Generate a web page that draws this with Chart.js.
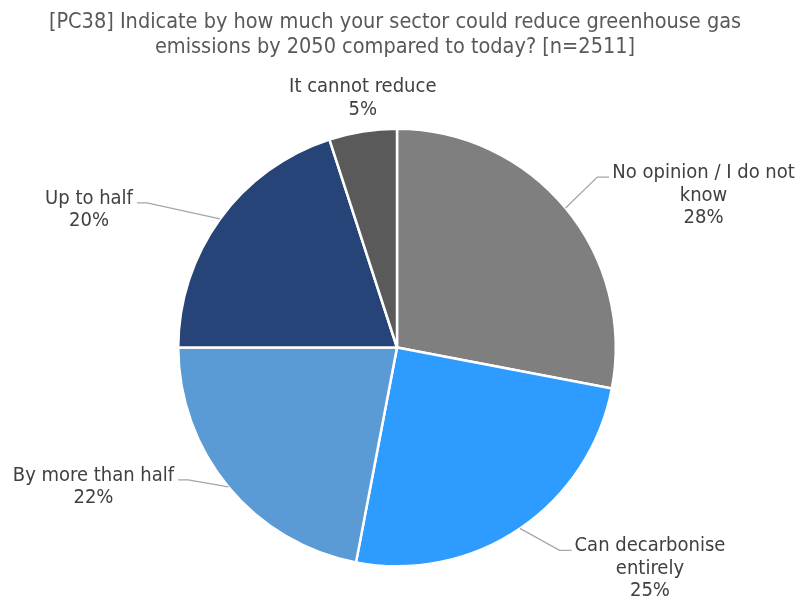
<!DOCTYPE html>
<html>
<head>
<meta charset="utf-8">
<title>PC38 pie</title>
<script src="https://cdn.jsdelivr.net/npm/chart.js@4.4.1/dist/chart.umd.min.js"></script>
<style>
  html, body { margin: 0; padding: 0; background: #ffffff; }
  canvas { display: block; }
</style>
</head>
<body>
<canvas id="chart" width="802" height="601"></canvas>
<script>
// Survey answers, in clockwise order from 12 o'clock
const categories = [
  'No opinion / I do not know',
  'Can decarbonise entirely',
  'By more than half',
  'Up to half',
  'It cannot reduce'
];
// Share of respondents, in percent
const shares = [28, 25, 22, 20, 5];
// How each category name is broken over lines in its label
const labelLines = [
  ['No opinion / I do not', 'know'],
  ['Can decarbonise', 'entirely'],
  ['By more than half'],
  ['Up to half'],
  ['It cannot reduce']
];
const titleLines = [
  '[PC38] Indicate by how much your sector could reduce greenhouse gas',
  'emissions by 2050 compared to today? [n=2511]'
];

// Slice colours
const sliceColors = ['#7f7f7f', '#2e9bff', '#5b9bd5', '#264478', '#5a5a5a'];

// Label placement: offset of the first text line (centre x, baseline y) from the slice's
// outer mid point, plus which side of the text a leader line attaches to.
const labelPlacement = [
  { dx: 138, dy: -30, leader: 'right' },
  { dx: 130, dy: 23, leader: 'right' },
  { dx: -135, dy: -6, leader: 'left' },
  { dx: -131, dy: -15, leader: 'left' },
  { dx: 0, dy: -39, leader: null }
];

const FONT = '"DejaVu Sans Condensed", "DejaVu Sans", sans-serif';
const TEXT_COLOR = '#404040';
const LINE_STEP = 22.5;

const backgroundPlugin = {
  id: 'whiteBackground',
  beforeDraw(chart) {
    const ctx = chart.ctx;
    ctx.save();
    ctx.fillStyle = '#ffffff';
    ctx.fillRect(0, 0, chart.width, chart.height);
    ctx.restore();
  }
};

const titlePlugin = {
  id: 'titleText',
  afterDraw(chart) {
    const ctx = chart.ctx;
    ctx.save();
    ctx.font = '21.5px ' + FONT;
    ctx.fillStyle = '#595959';
    ctx.textAlign = 'center';
    ctx.textBaseline = 'alphabetic';
    titleLines.forEach((line, i) => ctx.fillText(line, 395, 28 + i * 25));
    ctx.restore();
  }
};

const sliceLabelPlugin = {
  id: 'sliceLabels',
  afterDatasetsDraw(chart) {
    const ctx = chart.ctx;
    const meta = chart.getDatasetMeta(0);
    const values = chart.data.datasets[0].data;
    ctx.save();
    ctx.font = '20px ' + FONT;
    ctx.textAlign = 'center';
    ctx.textBaseline = 'alphabetic';
    meta.data.forEach((arc, i) => {
      const p = arc.getProps(['x', 'y', 'startAngle', 'endAngle', 'outerRadius'], true);
      const mid = (p.startAngle + p.endAngle) / 2;
      const ax = p.x + Math.cos(mid) * p.outerRadius;
      const ay = p.y + Math.sin(mid) * p.outerRadius;
      const place = labelPlacement[i];
      const cx = ax + place.dx;
      const by = ay + place.dy;
      const lines = labelLines[i].concat([values[i] + '%']);
      const firstWidth = ctx.measureText(lines[0]).width;

      if (place.leader) {
        const hy = by - 1;
        let hxNear, hxFar;
        if (place.leader === 'right') {
          hxNear = cx - firstWidth / 2 - 3;
          hxFar = hxNear - 12;
        } else {
          hxNear = cx + firstWidth / 2 + 4;
          hxFar = hxNear + 10;
        }
        ctx.beginPath();
        ctx.strokeStyle = '#a6a6a6';
        ctx.lineWidth = 1.3;
        ctx.moveTo(ax, ay);
        ctx.lineTo(hxFar, hy);
        ctx.lineTo(hxNear, hy);
        ctx.stroke();
      }

      ctx.fillStyle = TEXT_COLOR;
      lines.forEach((line, k) => ctx.fillText(line, cx, by + k * LINE_STEP));
    });
    ctx.restore();
  }
};

new Chart(document.getElementById('chart'), {
  type: 'pie',
  data: {
    labels: categories,
    datasets: [{
      data: shares,
      backgroundColor: sliceColors,
      borderColor: '#ffffff',
      borderWidth: 2.5
    }]
  },
  options: {
    responsive: false,
    animation: false,
    layout: {
      padding: { left: 177, right: 185, top: 127, bottom: 33 }
    },
    plugins: {
      legend: { display: false },
      tooltip: { enabled: false },
      title: { display: false }
    }
  },
  plugins: [backgroundPlugin, sliceLabelPlugin, titlePlugin]
});
</script>
</body>
</html>
